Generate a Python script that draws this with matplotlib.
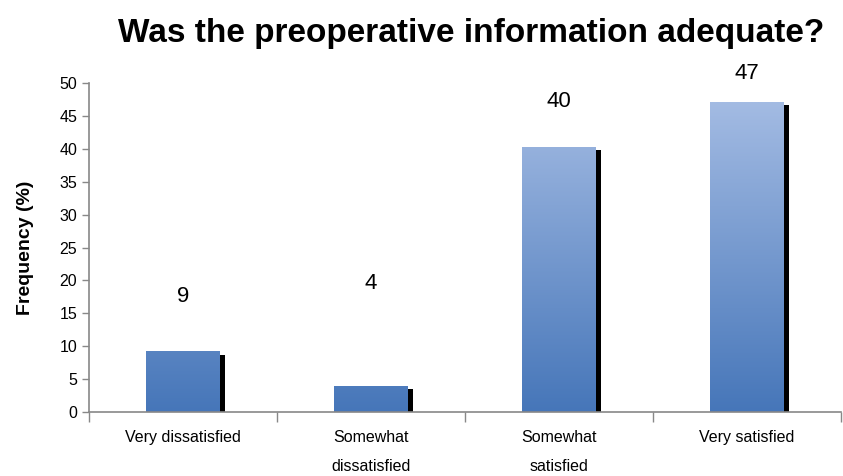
import numpy as np
import matplotlib
matplotlib.use('Agg')
import matplotlib.pyplot as plt
from matplotlib.colors import LinearSegmentedColormap

plt.rcParams['font.family'] = ['Liberation Sans', 'DejaVu Sans']

categories = ['Very dissatisfied', 'Somewhat\ndissatisfied', 'Somewhat\nsatisfied', 'Very satisfied']
values = [9.2, 4.0, 40.3, 47.1]
labels = ['9', '4', '40', '47']
label_y = [17.5, 19.6, 47.2, 51.5]

fig = plt.figure(figsize=(8.43, 4.76), dpi=100)
ax = fig.add_axes([0.1056, 0.1345, 0.892, 0.691])

x = np.arange(len(categories))
w = 0.39
cmap = LinearSegmentedColormap.from_list('bluegrad', ['#4676b9', '#a3bbe3'])
grad = np.linspace(0, 1, 256).reshape(-1, 1)

for xi, v in zip(x, values):
    # black drop shadow
    ax.bar(xi + 0.03, v - 0.5, width=w, color='black', zorder=1)
    bar = ax.bar(xi, v, width=w, color='none', zorder=2)[0]
    im = ax.imshow(grad, cmap=cmap, aspect='auto', origin='lower',
                   extent=[xi - w/2, xi + w/2, 0, 47.1], vmin=0, vmax=1, zorder=2)
    im.set_clip_path(bar)

for xi, t, ly in zip(x, labels, label_y):
    ax.text(xi, ly, t, ha='center', va='center', fontsize=16)

ax.set_xlim(-0.5, 3.5)
ax.set_ylim(0, 50)
ax.set_yticks(np.arange(0, 51, 5))
ax.tick_params(axis='y', labelsize=11.5, length=5, color='#888888', width=1)
ax.set_xticks([-0.5, 0.5, 1.5, 2.5, 3.5])
ax.set_xticklabels([])
ax.tick_params(axis='x', which='major', length=7, color='#888888', width=1)
ax.set_xticks(x, minor=True)
ax.set_xticklabels(categories, minor=True, fontsize=11.5, linespacing=2.15, va='top')
ax.tick_params(axis='x', which='minor', length=0, pad=13)
for s in ['top', 'right']:
    ax.spines[s].set_visible(False)
for s in ['left', 'bottom']:
    ax.spines[s].set_color('#888888')
    ax.spines[s].set_linewidth(1.2)

ax.set_ylabel('Frequency (%)', fontsize=14, fontweight='bold', labelpad=18)
fig.text(0.559, 0.93, 'Was the preoperative information adequate?', ha='center', va='center',
         fontsize=24, fontweight='bold')

fig.savefig('out.png', dpi=100)
